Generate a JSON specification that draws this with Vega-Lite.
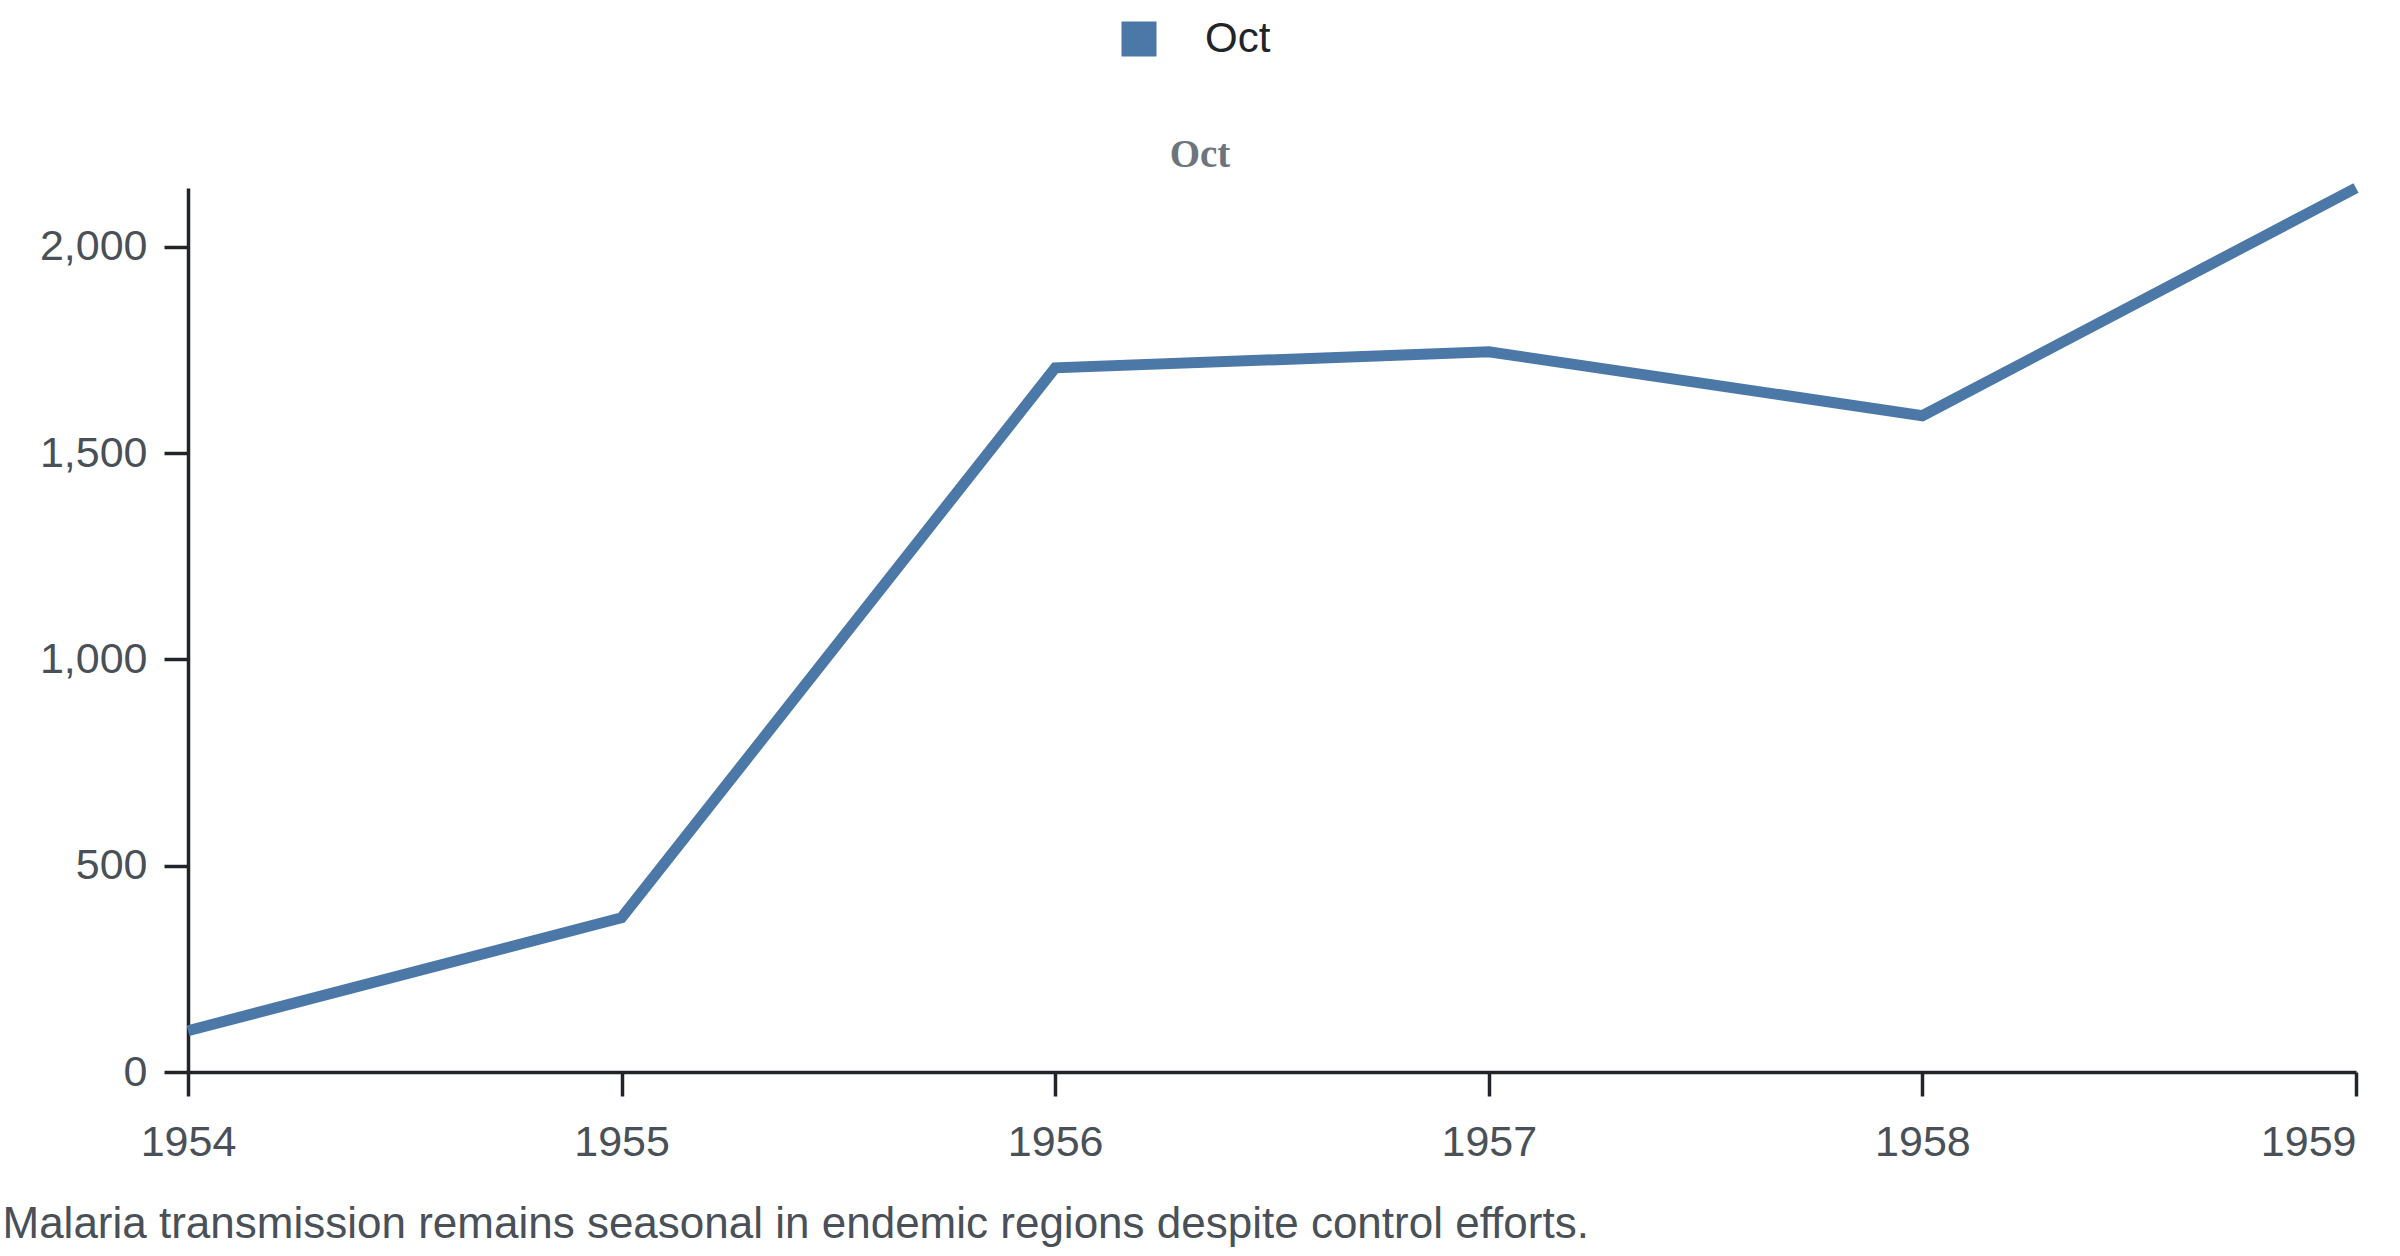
{
  "$schema": "https://vega.github.io/schema/vega-lite/v6.json",
  "width": 2168,
  "height": 884,
  "autosize": "none",
  "padding": {"left": 188, "top": 188, "right": 44, "bottom": 184},
  "background": "white",
  "title": {
    "text": "Oct",
    "anchor": "middle",
    "frame": "group",
    "dx": -72,
    "dy": 204,
    "offset": 16,
    "baseline": "alphabetic",
    "font": "Liberation Serif",
    "fontSize": 39,
    "fontWeight": "bold",
    "color": "#6c757d"
  },
  "data": {
    "values": [
      {"year": "1954", "series": "Oct", "cases": 100},
      {"year": "1955", "series": "Oct", "cases": 374},
      {"year": "1956", "series": "Oct", "cases": 1707},
      {"year": "1957", "series": "Oct", "cases": 1746},
      {"year": "1958", "series": "Oct", "cases": 1591},
      {"year": "1959", "series": "Oct", "cases": 2143}
    ]
  },
  "mark": {"type": "line", "strokeWidth": 11, "strokeJoin": "miter", "strokeCap": "butt"},
  "encoding": {
    "x": {
      "field": "year",
      "type": "ordinal",
      "scale": {"type": "point", "padding": 0},
      "axis": {
        "title": "Malaria transmission remains seasonal in endemic regions despite control efforts.",
        "labelAngle": 0,
        "labelPadding": 25,
        "labelAlign": {"condition": {"test": "datum.value == '1959'", "value": "right"}, "value": "center"},
        "titleAnchor": "start",
        "titleAlign": "left",
        "titleBaseline": "alphabetic",
        "titleX": -186,
        "titleY": 165,
        "titleFont": "Liberation Sans",
        "titleFontSize": 44,
        "titleFontWeight": "normal",
        "titleColor": "#495057"
      }
    },
    "y": {
      "field": "cases",
      "type": "quantitative",
      "scale": {"domain": [0, 2143], "nice": false},
      "axis": {
        "title": null,
        "values": [0, 500, 1000, 1500, 2000],
        "format": ",d",
        "labelPadding": 17
      }
    },
    "color": {
      "field": "series",
      "type": "nominal",
      "scale": {"range": ["#4c78a8"]},
      "legend": {
        "title": null,
        "orient": "none",
        "legendX": 930,
        "legendY": -170,
        "symbolType": "square",
        "symbolSize": 1225,
        "symbolStrokeWidth": 0,
        "labelOffset": 45,
        "labelFont": "Liberation Sans",
        "labelFontSize": 42,
        "labelColor": "#212529",
        "encode": {"symbols": {"update": {"fill": {"value": "#4c78a8"}, "fillOpacity": {"value": 1}}}}
      }
    }
  },
  "config": {
    "view": {"stroke": null},
    "axis": {
      "grid": false,
      "domainColor": "#212529",
      "domainWidth": 3.5,
      "tickColor": "#212529",
      "tickWidth": 3.5,
      "tickSize": 24,
      "labelFont": "Liberation Sans",
      "labelFontSize": 43,
      "labelColor": "#495057"
    }
  }
}
